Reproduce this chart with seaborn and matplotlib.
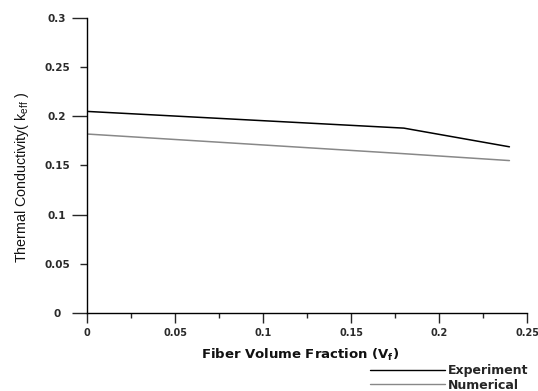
import numpy as np
import pandas as pd
import matplotlib
matplotlib.use("Agg")
import matplotlib.pyplot as plt
import seaborn as sns

sns.set_style("white")
plt.rcParams['font.family'] = ['DejaVu Sans']

vf = [0.0, 0.18, 0.24]
experiment = [0.205, 0.188, 0.169]
numerical = [0.182, 0.162, 0.155]
series_names = ["Experiment", "Numerical"]
colors = ["#000000", "#888888"]
xticks = [0, 0.05, 0.1, 0.15, 0.2, 0.25]
xticklabels = ["0", "0.05", "0.1", "0.15", "0.2", "0.25"]
xminor = [0.025, 0.075, 0.125, 0.175, 0.225]
yticks_major = [0, 0.1, 0.2, 0.3]
yticklabels_major = ["0", "0.1", "0.2", "0.3"]
yticks_minor = [0.05, 0.15, 0.25]
yticklabels_minor = ["0.05", "0.15", "0.25"]

df = pd.concat([
    pd.DataFrame({"Vf": vf, "k": experiment, "Series": series_names[0]}),
    pd.DataFrame({"Vf": vf, "k": numerical, "Series": series_names[1]}),
])

fig = plt.figure(figsize=(5.38, 3.91), dpi=100)
ax = fig.add_axes([0.1617, 0.1995, 0.8179, 0.7545])

sns.lineplot(data=df, x="Vf", y="k", hue="Series", palette=colors,
             linewidth=1.1, ax=ax, legend=False, sort=False)

ax.set_xlim(0, 0.25)
ax.set_ylim(0, 0.3)
ax.set_xticks(xticks)
ax.set_xticklabels(xticklabels)
ax.set_xticks(xminor, minor=True)
ax.set_yticks(yticks_major)
ax.set_yticklabels(yticklabels_major)
ax.set_yticks(yticks_minor, minor=True)
ax.set_yticklabels(yticklabels_minor, minor=True)

for s in ["top", "right"]:
    ax.spines[s].set_visible(False)
for s in ["left", "bottom"]:
    ax.spines[s].set_color("black")
    ax.spines[s].set_linewidth(1.0)

px = 72 / 100.0  # points per pixel
ax.tick_params(axis="x", which="major", direction="out", length=10 * px, width=1.0,
               labelsize=7, pad=5 * px, bottom=True)
ax.tick_params(axis="x", which="minor", direction="out", length=5 * px, width=1.0,
               bottom=True, labelbottom=False)
ax.tick_params(axis="y", which="major", direction="out", length=15 * px, width=1.0,
               labelsize=7.5, pad=15 * px, left=True)
ax.tick_params(axis="y", which="minor", direction="out", length=7 * px, width=1.0,
               labelsize=7.5, pad=23 * px, left=True)
for lab in ax.get_xticklabels():
    lab.set_fontweight("bold")
    lab.set_color("#2a2a2a")
for lab in ax.get_yticklabels() + ax.get_yticklabels(minor=True):
    lab.set_fontweight("bold")
    lab.set_color("#2a2a2a")
    lab.set_horizontalalignment("center")

ax.set_xlabel("Fiber Volume Fraction (V$_\\mathregular{f}$)", fontsize=9.5,
              fontweight="bold", color="#111111")
ax.xaxis.set_label_coords(0.484, -0.115)
ax.set_ylabel("Thermal Conductivity( k$_\\mathregular{eff}$ )", fontsize=10.3,
              family="Liberation Sans", color="#111111")
ax.yaxis.set_label_coords(-0.128, 0.46)

handles = [plt.Line2D([], [], color=c, lw=1.0) for c in colors]
leg = fig.legend(handles, series_names, loc="upper left",
                 bbox_to_anchor=(0.688, 0.068), frameon=False,
                 handlelength=6.0, handletextpad=0.2, labelspacing=0.1,
                 borderpad=0, borderaxespad=0,
                 prop={"size": 9, "weight": "bold", "family": "DejaVu Sans"})

fig.savefig("out.png", dpi=100)
